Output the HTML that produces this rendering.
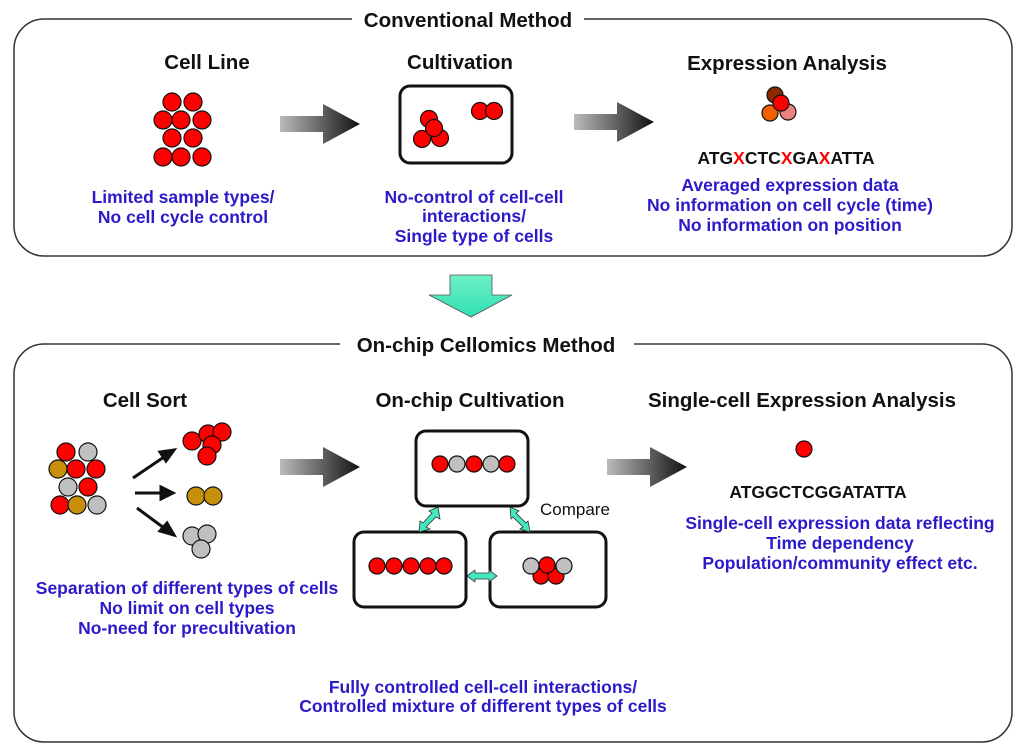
<!DOCTYPE html>
<html><head><meta charset="utf-8"><style>
html,body{margin:0;padding:0;background:#fff;}
svg{display:block;font-family:"Liberation Sans",Arial,sans-serif;}
.h{font-size:20.5px;font-weight:bold;fill:#111;text-anchor:middle;}
.b{font-size:17.5px;font-weight:bold;fill:#2a1ac8;text-anchor:middle;}
.s{font-size:17.5px;font-weight:bold;fill:#111;text-anchor:middle;}
</style></head><body>
<svg width="1024" height="756" viewBox="0 0 1024 756" xmlns="http://www.w3.org/2000/svg">
<defs>
<linearGradient id="ga" x1="0" x2="1" y1="0" y2="0"><stop offset="0" stop-color="#bbb"/><stop offset="1" stop-color="#111"/></linearGradient>
<linearGradient id="gg" x1="0" x2="0" y1="0" y2="1"><stop offset="0" stop-color="#6ff0c8"/><stop offset="1" stop-color="#2ee0b0"/></linearGradient>
<g id="arr"><path d="M0,-8 H43 V-20 L80,0 L43,20 V8 H0 Z" fill="url(#ga)"/></g>
</defs>
<rect x="14" y="19" width="998" height="237" rx="30" fill="none" stroke="#333" stroke-width="1.5"/>
<rect x="352" y="8" width="232" height="22" fill="#fff"/>
<text x="468" y="27" class="h">Conventional Method</text>
<text x="207" y="69" class="h">Cell Line</text>
<text x="460" y="69" class="h">Cultivation</text>
<text x="787" y="70" class="h">Expression Analysis</text>
<g fill="#f00" stroke="#111" stroke-width="1.2">
<circle cx="172" cy="102" r="9"/><circle cx="193" cy="102" r="9"/>
<circle cx="163" cy="120" r="9"/><circle cx="181" cy="120" r="9"/><circle cx="202" cy="120" r="9"/>
<circle cx="172" cy="138" r="9"/><circle cx="193" cy="138" r="9"/>
<circle cx="163" cy="157" r="9"/><circle cx="181" cy="157" r="9"/><circle cx="202" cy="157" r="9"/>
</g>
<use href="#arr" x="280" y="124"/>
<rect x="400" y="86" width="112" height="77" rx="10" fill="none" stroke="#111" stroke-width="3"/>
<g fill="#f00" stroke="#111" stroke-width="1.2">
<circle cx="429" cy="119" r="8.5"/><circle cx="422" cy="139" r="8.5"/><circle cx="440" cy="138" r="8.5"/><circle cx="434" cy="128" r="8.5"/>
<circle cx="480" cy="111" r="8.5"/><circle cx="494" cy="111" r="8.5"/>
</g>
<use href="#arr" x="574" y="122"/>
<g stroke="#111" stroke-width="1.2">
<circle cx="775" cy="95" r="8" fill="#8b2a00"/>
<circle cx="770" cy="113" r="8" fill="#f06000"/>
<circle cx="788" cy="112" r="8" fill="#f08080"/>
<circle cx="781" cy="103" r="8" fill="#f00"/>
</g>
<text x="786" y="164" class="s">ATG<tspan fill="#f00">X</tspan>CTC<tspan fill="#f00">X</tspan>GA<tspan fill="#f00">X</tspan>ATTA</text>
<text x="183" y="203" class="b">Limited sample types/</text>
<text x="183" y="223" class="b">No cell cycle control</text>
<text x="474" y="203" class="b">No-control of cell-cell</text>
<text x="474" y="222" class="b">interactions/</text>
<text x="474" y="242" class="b">Single type of cells</text>
<text x="790" y="191" class="b">Averaged expression data</text>
<text x="790" y="211" class="b">No information on cell cycle (time)</text>
<text x="790" y="231" class="b">No information on position</text>
<path d="M450,275 H492 V295 H512 L471,317 L429,295 H450 Z" fill="url(#gg)" stroke="#555" stroke-width="0.8"/>
<rect x="14" y="344" width="998" height="398" rx="30" fill="none" stroke="#333" stroke-width="1.5"/>
<rect x="340" y="333" width="294" height="22" fill="#fff"/>
<text x="486" y="352" class="h">On-chip Cellomics Method</text>
<text x="145" y="407" class="h">Cell Sort</text>
<text x="470" y="407" class="h">On-chip Cultivation</text>
<text x="802" y="407" class="h">Single-cell Expression Analysis</text>
<g stroke="#111" stroke-width="1.2">
<circle cx="66" cy="452" r="9" fill="#f00"/><circle cx="88" cy="452" r="9" fill="#c0c0c0"/>
<circle cx="58" cy="469" r="9" fill="#c8900a"/><circle cx="76" cy="469" r="9" fill="#f00"/><circle cx="96" cy="469" r="9" fill="#f00"/>
<circle cx="68" cy="487" r="9" fill="#c0c0c0"/><circle cx="88" cy="487" r="9" fill="#f00"/>
<circle cx="60" cy="505" r="9" fill="#f00"/><circle cx="77" cy="505" r="9" fill="#c8900a"/><circle cx="97" cy="505" r="9" fill="#c0c0c0"/>
<circle cx="192" cy="441" r="9" fill="#f00"/><circle cx="208" cy="434" r="9" fill="#f00"/><circle cx="222" cy="432" r="9" fill="#f00"/><circle cx="212" cy="445" r="9" fill="#f00"/><circle cx="207" cy="456" r="9" fill="#f00"/>
<circle cx="196" cy="496" r="9" fill="#c8900a"/><circle cx="213" cy="496" r="9" fill="#c8900a"/>
<circle cx="192" cy="536" r="9" fill="#c0c0c0"/><circle cx="207" cy="534" r="9" fill="#c0c0c0"/><circle cx="201" cy="549" r="9" fill="#c0c0c0"/>
</g>
<g stroke="#111" stroke-width="3" fill="#111">
<line x1="133" y1="478" x2="164" y2="457"/><path d="M174,450 L160,452 L166,461 Z"/>
<line x1="135" y1="493" x2="162" y2="493"/><path d="M173,493 L161,487 L161,499 Z"/>
<line x1="137" y1="508" x2="164" y2="528"/><path d="M174,535 L160,531 L167,523 Z"/>
</g>
<use href="#arr" x="280" y="467"/>
<rect x="416" y="431" width="112" height="75" rx="10" fill="#fff" stroke="#111" stroke-width="3"/>
<rect x="354" y="532" width="112" height="75" rx="10" fill="#fff" stroke="#111" stroke-width="3"/>
<rect x="490" y="532" width="116" height="75" rx="10" fill="#fff" stroke="#111" stroke-width="3"/>
<g stroke="#111" stroke-width="1.2">
<circle cx="440" cy="464" r="8" fill="#f00"/><circle cx="457" cy="464" r="8" fill="#c0c0c0"/><circle cx="474" cy="464" r="8" fill="#f00"/><circle cx="491" cy="464" r="8" fill="#c0c0c0"/><circle cx="507" cy="464" r="8" fill="#f00"/>
<circle cx="377" cy="566" r="8" fill="#f00"/><circle cx="394" cy="566" r="8" fill="#f00"/><circle cx="411" cy="566" r="8" fill="#f00"/><circle cx="428" cy="566" r="8" fill="#f00"/><circle cx="444" cy="566" r="8" fill="#f00"/>
<circle cx="541" cy="576" r="8" fill="#f00"/><circle cx="556" cy="576" r="8" fill="#f00"/>
<circle cx="531" cy="566" r="8" fill="#c0c0c0"/><circle cx="564" cy="566" r="8" fill="#c0c0c0"/><circle cx="547" cy="565" r="8" fill="#f00"/>
</g>
<g fill="#44e8c0" stroke="#333" stroke-width="0.8">
<path d="M438,507 L440,519 L436,517 L426,527 L430,529 L419,532 L420,521 L423,523 L432,513 L429,511 Z"/>
<path d="M510,507 L519,511 L516,513 L526,523 L528,521 L530,532 L520,529 L523,527 L513,517 L511,519 Z"/>
<path d="M467,576 L475,570 V573 H489 V570 L497,576 L489,582 V579 H475 V582 Z"/>
</g>
<text x="540" y="515" font-size="17" fill="#111">Compare</text>
<use href="#arr" x="607" y="467"/>
<circle cx="804" cy="449" r="8" fill="#f00" stroke="#111" stroke-width="1.2"/>
<text x="818" y="498" class="s">ATGGCTCGGATATTA</text>
<text x="840" y="529" class="b">Single-cell expression data reflecting</text>
<text x="840" y="549" class="b">Time dependency</text>
<text x="840" y="569" class="b">Population/community effect etc.</text>
<text x="187" y="594" class="b">Separation of different types of cells</text>
<text x="187" y="614" class="b">No limit on cell types</text>
<text x="187" y="634" class="b">No-need for precultivation</text>
<text x="483" y="693" class="b">Fully controlled cell-cell interactions/</text>
<text x="483" y="712" class="b">Controlled mixture of different types of cells</text>
</svg>
</body></html>
